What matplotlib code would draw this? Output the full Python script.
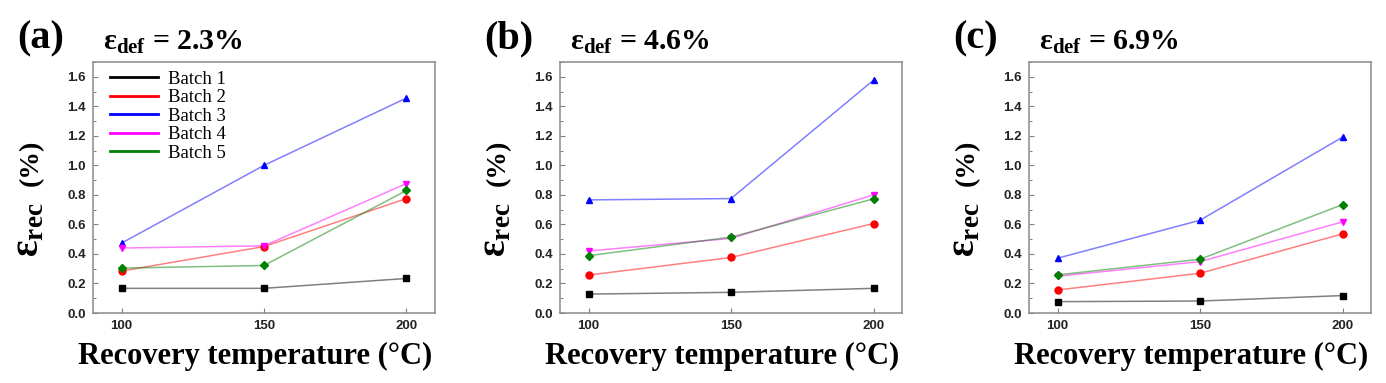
import numpy as np
import matplotlib
matplotlib.use('Agg')
import matplotlib.pyplot as plt
from matplotlib.lines import Line2D
from matplotlib.ticker import MultipleLocator

# recovery temperatures (C)
temps = [100, 150, 200]

batches = ['Batch 1', 'Batch 2', 'Batch 3', 'Batch 4', 'Batch 5']
colors = ['#000000', '#ff0000', '#0000ff', '#ff00ff', '#008000']
markers = ['s', 'o', '^', 'v', 'D']

panel_labels = ['(a)', '(b)', '(c)']
def_strains = ['2.3%', '4.6%', '6.9%']

# recovered strain (%) per batch, panel (a) eps_def = 2.3%
rec_a = [[0.167, 0.167, 0.234],
         [0.284, 0.450, 0.775],
         [0.473, 1.000, 1.456],
         [0.440, 0.455, 0.877],
         [0.304, 0.322, 0.830]]

# panel (b) eps_def = 4.6%
rec_b = [[0.128, 0.140, 0.167],
         [0.257, 0.376, 0.606],
         [0.766, 0.775, 1.577],
         [0.420, 0.505, 0.800],
         [0.388, 0.514, 0.773]]

# panel (c) eps_def = 6.9%
rec_c = [[0.077, 0.081, 0.118],
         [0.156, 0.269, 0.536],
         [0.371, 0.628, 1.191],
         [0.249, 0.348, 0.617],
         [0.258, 0.364, 0.734]]

serif = 'Liberation Serif'
sans = 'Liberation Sans'

fig = plt.figure(figsize=(13.86, 3.83), dpi=100)

lefts = [93, 560, 1029]
W, H = 1386.0, 383.0
ax_w = 342
ax_h = 251
ax_bottom = 313

for k, data in enumerate([rec_a, rec_b, rec_c]):
    ax = fig.add_axes([lefts[k] / W, 1 - ax_bottom / H, ax_w / W, ax_h / H])

    for i in range(len(batches)):
        ax.plot(temps, data[i], color=colors[i], lw=1.1, alpha=0.5, zorder=2)
        ax.plot(temps, data[i], ls='none', marker=markers[i], color=colors[i],
                markersize=5 if markers[i] != 'D' else 4.5, zorder=3)

    ax.set_xlim(90, 210)
    ax.set_ylim(0, 1.7)
    ax.set_xticks(temps)
    ax.yaxis.set_major_locator(MultipleLocator(0.2))
    ax.yaxis.set_minor_locator(MultipleLocator(0.1))
    ax.tick_params(which='both', direction='in', color='#808080', labelcolor='#222222')
    ax.tick_params(which='major', length=3.5, width=0.8)
    ax.tick_params(which='minor', length=2, width=0.7)
    ax.tick_params(axis='y', pad=5)
    ax.tick_params(axis='x', pad=5)
    for lab in ax.get_xticklabels() + ax.get_yticklabels():
        lab.set_fontfamily(sans)
        lab.set_fontweight('bold')
        lab.set_fontsize(9.5)
    ax.yaxis.set_major_formatter(plt.FormatStrFormatter('%.1f'))
    for sp in ax.spines.values():
        sp.set_color('#8a8a8a')
        sp.set_linewidth(1.1)

    ax.set_xlabel('Recovery temperature (°C)', fontfamily=serif, fontweight='bold',
                  fontsize=22)
    ax.xaxis.set_label_coords(0.5 - 9 / ax_w, -0.115)

    # y label: big epsilon with subscript, then (%)
    ax.text(-64 / ax_w, 0.33, '$\\mathdefault{ε_{rec}}$', rotation=90, transform=ax.transAxes,
            ha='center', va='center', fontfamily=serif, fontweight='bold', fontsize=28)
    ax.text(-62 / ax_w, 0.60, '(%)', rotation=90, transform=ax.transAxes,
            ha='center', va='center', fontfamily=serif, fontweight='bold', fontsize=20)

    # panel label and deformation strain
    ax.text(-76 / ax_w, 1.092, panel_labels[k], transform=ax.transAxes, ha='left', va='center',
            fontfamily=serif, fontweight='bold', fontsize=29)
    ax.text(10 / ax_w, 1 + 12 / ax_h, '$\\mathdefault{ε_{def}}$ = ' + def_strains[k],
            transform=ax.transAxes, ha='left', va='baseline',
            fontfamily=serif, fontweight='bold', fontsize=21.5)

    if k == 0:
        handles = [Line2D([], [], color=c, lw=2) for c in colors]
        ax.legend(handles, batches, loc='upper left', frameon=False,
                  bbox_to_anchor=(17 / ax_w, 0.965),
                  prop={'family': serif, 'size': 13.5},
                  handlelength=2.56, handletextpad=0.53, labelspacing=0.07,
                  borderaxespad=0, borderpad=0)

fig.savefig('out.png', dpi=100)
